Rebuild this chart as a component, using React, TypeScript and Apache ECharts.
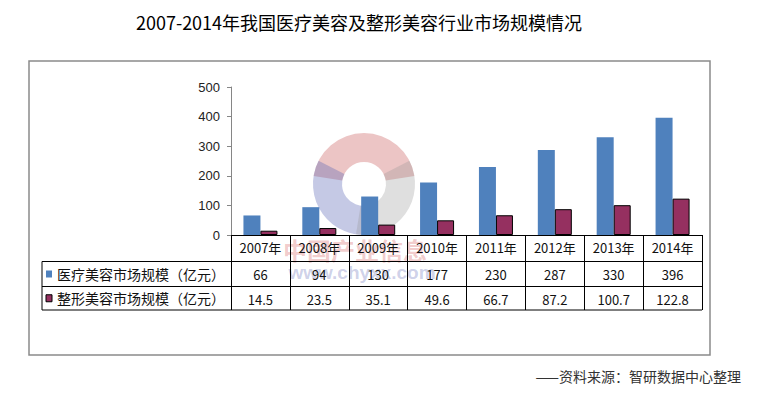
import React, { useEffect, useRef } from "react";
import * as echarts from "echarts";

const years = ["2007年", "2008年", "2009年", "2010年", "2011年", "2012年", "2013年", "2014年"];
const medicalBeauty = [66, 94, 130, 177, 230, 287, 330, 396];
const plasticBeauty = [14.5, 23.5, 35.1, 49.6, 66.7, 87.2, 100.7, 122.8];
const seriesNames = ["医疗美容市场规模（亿元）", "整形美容市场规模（亿元）"];
const titleText = "2007-2014年我国医疗美容及整形美容行业市场规模情况";
const sourceText = "——资料来源：智研数据中心整理";

const BLUE = "#4F81BD";
const MAGENTA = "#953060";
const CJK = "'Noto Sans CJK SC', sans-serif";

export default function App() {
  const ref = useRef<HTMLDivElement>(null);
  useEffect(() => {
    document.body.style.margin = "0";
    const chart = echarts.init(ref.current!, null, { renderer: "svg" });
    const gl = 231, gt = 87, gw = 471, gh = 148;
    const gb = gt + gh;
    const row1 = gb + 26.5, row2 = gb + 51.5, row3 = gb + 75;
    const tableLeft = 42;
    const lineStyle = { stroke: "#000", lineWidth: 1 };
    const option: any = {
      animation: false,
      backgroundColor: "#fff",
      title: {
        text: titleText,
        left: 354,
        textAlign: "center",
        top: 8,
        textStyle: { fontFamily: CJK, fontSize: 18, fontWeight: "normal", color: "#000" },
      },
      grid: { left: gl, top: gt, width: gw, height: gh, containLabel: false },
      xAxis: [
        {
          type: "category",
          data: years,
          position: "bottom",
          axisLine: { show: true, lineStyle: { color: "#000", width: 1 } },
          axisTick: { show: true, interval: 0, length: row3 - gb, lineStyle: { color: "#000" } },
          axisLabel: { interval: 0, margin: 6, fontSize: 13, color: "#111", fontFamily: CJK },
        },
        {
          type: "category",
          data: medicalBeauty.map(String),
          position: "bottom",
          offset: row1 - gb,
          axisLine: { show: true, lineStyle: { color: "#000", width: 1 } },
          axisTick: { show: false },
          axisLabel: { interval: 0, margin: 6, fontSize: 13, color: "#111", fontFamily: CJK },
        },
        {
          type: "category",
          data: plasticBeauty.map((v) => v.toFixed(1)),
          position: "bottom",
          offset: row2 - gb,
          axisLine: { show: true, lineStyle: { color: "#000", width: 1 } },
          axisTick: { show: false },
          axisLabel: { interval: 0, margin: 6, fontSize: 13, color: "#111", fontFamily: CJK },
        },
      ],
      yAxis: {
        type: "value",
        min: 0,
        max: 500,
        interval: 100,
        axisLine: { show: true, lineStyle: { color: "#868686" } },
        axisTick: { show: true, length: 4, lineStyle: { color: "#868686" } },
        splitLine: { show: false },
        axisLabel: { margin: 11, fontSize: 13, color: "#222", fontFamily: "'Liberation Sans', Arial, sans-serif" },
      },
      series: [
        {
          name: seriesNames[0],
          type: "bar",
          xAxisIndex: 0,
          data: medicalBeauty,
          barWidth: 17,
          barGap: "0%",
          itemStyle: { color: BLUE },
        },
        {
          name: seriesNames[1],
          type: "bar",
          xAxisIndex: 0,
          data: plasticBeauty,
          barWidth: 17,
          barGap: "0%",
          itemStyle: { color: MAGENTA, borderColor: "#000", borderWidth: 1 },
        },
      ],
      graphic: [
        { type: "rect", shape: { x: 29, y: 61, width: 681, height: 294 }, style: { fill: "none", stroke: "#8a8a8a", lineWidth: 1.5 }, z: 0 },
        {
          type: "group",
          z: 100,
          children: [
            { type: "sector", shape: { cx: 364, cy: 184, r: 51, r0: 22, startAngle: Math.PI * 1.05, endAngle: Math.PI * 1.95 }, style: { fill: "rgba(200,90,90,0.35)" } },
            { type: "sector", shape: { cx: 364, cy: 184, r: 51, r0: 22, startAngle: Math.PI * 0.45, endAngle: Math.PI * 1.15 }, style: { fill: "rgba(90,100,180,0.35)" } },
            { type: "sector", shape: { cx: 364, cy: 184, r: 51, r0: 22, startAngle: -Math.PI * 0.15, endAngle: Math.PI * 0.55 }, style: { fill: "rgba(150,150,150,0.3)" } },
            { type: "text", style: { text: "中国产业信息", x: 355, y: 249, align: "center", verticalAlign: "middle", fontSize: 24, fontWeight: "bold", fontFamily: CJK, fill: "rgba(210,80,80,0.3)" } },
            { type: "text", style: { text: "www.chyxx.com", x: 362, y: 272, align: "center", verticalAlign: "middle", fontSize: 19, fontWeight: "bold", fontFamily: "'Liberation Sans', sans-serif", fill: "rgba(90,100,180,0.3)" } },
          ],
        },
        { type: "line", shape: { x1: tableLeft, y1: row1, x2: gl, y2: row1 }, style: lineStyle },
        { type: "line", shape: { x1: tableLeft, y1: row2, x2: gl, y2: row2 }, style: lineStyle },
        { type: "line", shape: { x1: tableLeft, y1: row3, x2: gl + gw, y2: row3 }, style: lineStyle },
        { type: "line", shape: { x1: tableLeft, y1: row1, x2: tableLeft, y2: row3 }, style: lineStyle },
        { type: "rect", shape: { x: 46, y: (row1 + row2) / 2 - 3.5, width: 6, height: 7 }, style: { fill: BLUE } },
        { type: "text", style: { text: seriesNames[0], x: 57, y: (row1 + row2) / 2, verticalAlign: "middle", fontSize: 14, fontFamily: CJK, fill: "#111" } },
        { type: "rect", shape: { x: 46, y: (row2 + row3) / 2 - 3.5, width: 6, height: 7 }, style: { fill: MAGENTA, stroke: "#000", lineWidth: 1 } },
        { type: "text", style: { text: seriesNames[1], x: 57, y: (row2 + row3) / 2, verticalAlign: "middle", fontSize: 14, fontFamily: CJK, fill: "#111" } },
        { type: "text", style: { text: sourceText, x: 741, y: 376, align: "right", verticalAlign: "middle", fontSize: 14, fontFamily: CJK, fill: "#333" } },
      ],
    };
    chart.setOption(option);
    return () => chart.dispose();
  }, []);
  return <div ref={ref} style={{ position: "fixed", left: 0, top: 0, width: 777, height: 395 }} />;
}
